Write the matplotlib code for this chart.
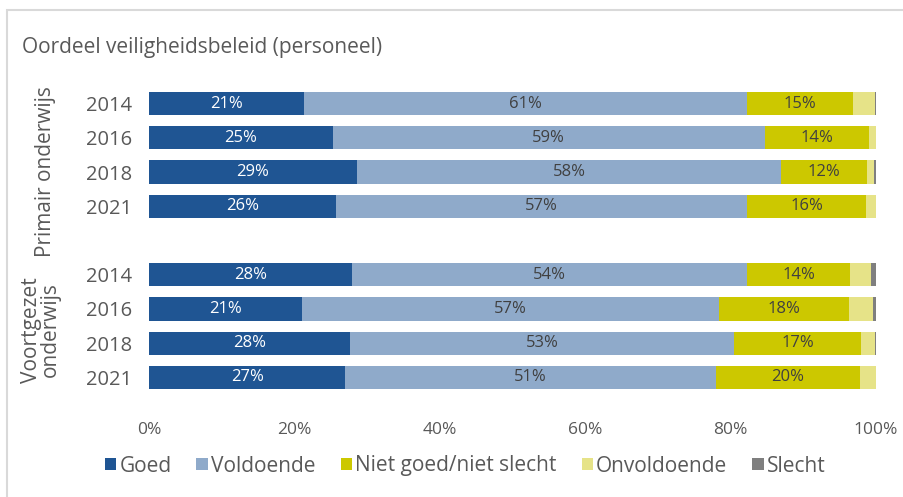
import matplotlib
matplotlib.use('Agg')
import matplotlib.pyplot as plt
from matplotlib.patches import Rectangle

plt.rcParams['font.family'] = ['Open Sans', 'DejaVu Sans']

# ===============================================================================================
# data (percentages per year, primair onderwijs first, then voortgezet onderwijs)
years = ['2014', '2016', '2018', '2021']
groups = ['Primair\nonderwijs', 'Voortgezet\nonderwijs']
categories = ['Goed', 'Voldoende', 'Niet goed/niet slecht', 'Onvoldoende', 'Slecht']

goed = [21.3, 25.3, 28.6, 25.7, 27.9, 21.0, 27.6, 27.0]
voldoende = [61.0, 59.4, 58.4, 56.6, 54.4, 57.4, 52.9, 51.0]
niet_goed = [14.6, 14.3, 11.7, 16.3, 14.1, 17.9, 17.4, 19.8]
onvoldoende = [2.9, 1.0, 1.0, 1.4, 2.9, 3.3, 1.9, 2.2]
slecht = [0.2, 0.0, 0.3, 0.0, 0.7, 0.4, 0.3, 0.0]

colors = ['#1F5593', '#8FAACA', '#CCC800', '#E6E388', '#7F7F7F']
label_colors = ['white', '#404040', '#404040', None, None]
text_grey = '#595959'

# ===============================================================================================
fig = plt.figure(figsize=(9.04, 4.97), dpi=100)
ax = fig.add_axes([149 / 904, 1 - 398 / 497, 727 / 904, 315 / 497])

positions = [0, 1, 2, 3, 5, 6, 7, 8]
series = [goed, voldoende, niet_goed, onvoldoende, slecht]
left = [0.0] * len(positions)
for vals, col, lcol, name in zip(series, colors, label_colors, categories):
    bars = ax.barh(positions, vals, left=left, height=0.68, color=col,
                   label=name, edgecolor='none')
    if lcol is not None:
        for b, v in zip(bars, vals):
            ax.text(b.get_x() + b.get_width() / 2, b.get_y() + b.get_height() / 2,
                    f'{round(v)}%', ha='center', va='center', fontsize=12, color=lcol)
    left = [l + v for l, v in zip(left, vals)]

ax.set_xlim(0, 100)
ax.set_ylim(8.6, -0.6)
ax.set_xticks([0, 20, 40, 60, 80, 100])
ax.set_xticklabels(['0%', '20%', '40%', '60%', '80%', '100%'], fontsize=12.5, color=text_grey)
ax.set_yticks(positions)
ax.set_yticklabels(years * 2, fontsize=14.5, color=text_grey)
ax.tick_params(length=0)
ax.tick_params(axis='y', pad=12)
ax.tick_params(axis='x', pad=17)
for s in ax.spines.values():
    s.set_visible(False)

# group labels
fig.text(46 / 904, 1 - 172 / 497, groups[0].replace('\n', ' '), rotation=90,
         ha='center', va='center', fontsize=15, color=text_grey)
fig.text(41 / 904, 1 - 330 / 497, groups[1], rotation=90, ha='center', va='center',
         fontsize=15, color=text_grey, linespacing=0.9)

fig.text(22 / 904, 1 - 48 / 497, 'Oordeel veiligheidsbeleid (personeel)',
         ha='left', va='center', fontsize=15, color=text_grey)

leg = fig.legend(loc='center left', bbox_to_anchor=(86 / 904, 1 - 466 / 497), ncol=5,
                 frameon=False, fontsize=15, handlelength=0.55, handleheight=0.55,
                 handletextpad=0.15, columnspacing=1.2)
for t in leg.get_texts():
    t.set_color(text_grey)

# light frame around the chart
fig.patches.append(Rectangle((7 / 904, -0.01), 1.02, 1 - 10 / 497 + 0.01,
                             transform=fig.transFigure, fill=False,
                             edgecolor='#D9D9D9', linewidth=1.5))

fig.savefig('out.png', dpi=100)
